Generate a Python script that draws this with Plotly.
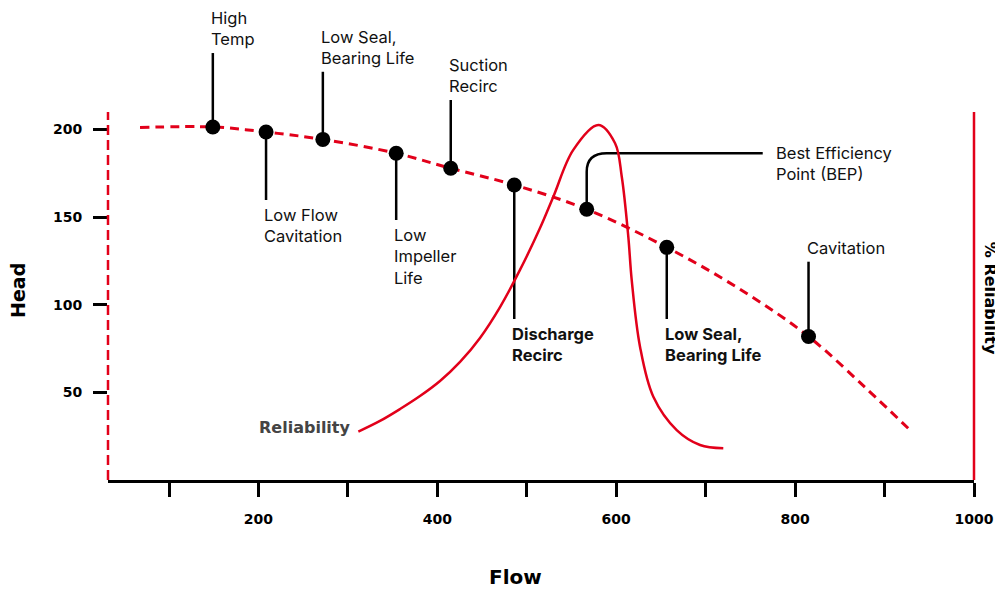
import plotly.graph_objects as go

# ---------------- data ----------------
head_flow = [67.6, 149, 208.5, 272, 354, 415, 486, 567, 656.5, 738, 815, 880, 930.7]
head_vals = [201.2, 201.5, 198.6, 194.4, 186.5, 177.9, 168.4, 154.5, 132.8, 109.0, 81.9, 52.0, 27.4]

rel_flow = [311.7, 335.9, 358.3, 380.6, 403.0, 425.4, 447.7, 470.1, 492.4, 514.8, 529.7,
            552.0, 580.0, 598.7, 606.2, 613.5, 617.3, 626.6, 641.5, 667.6, 693.7, 719.7]
rel_vals = [27.6, 33.7, 40.5, 47.9, 56.5, 67.4, 81.1, 98.7, 119.9, 143.8, 161.7,
            188.4, 202.6, 192.2, 173.1, 138.9, 114.2, 76.1, 47.5, 28.5, 20.0, 18.1]

point_flow = [149, 208.5, 272, 354, 415, 486, 567, 656.5, 815]
point_head = [201.5, 198.6, 194.4, 186.5, 177.9, 168.4, 154.5, 132.8, 81.9]
point_labels = ["High<br>Temp", "Low Flow<br>Cavitation", "Low Seal,<br>Bearing Life",
                "Low<br>Impeller<br>Life", "Suction<br>Recirc", "Discharge<br>Recirc",
                "Best Efficiency<br>Point (BEP)", "Low Seal,<br>Bearing Life", "Cavitation"]
point_bold = [False, False, False, False, False, True, False, True, False]

x_tickvals = [100, 200, 300, 400, 500, 600, 700, 800, 900, 1000]
x_ticktext = ["", "200", "", "400", "", "600", "", "800", "", "1000"]
y_tickvals = [50, 100, 150, 200]
y_ticktext = ["50", "100", "150", "200"]

# ---------------- layout config (callout leader ends) ----------------
leader_end = [243.7, 159.8, 233.0, 148.4, 216.9, 91.9, None, 91.9, 124.6]
bep_corner_y = 186.5
bep_end_x = 763.8

RED = "#E2001A"
X_RANGE = [31.8, 1000]
Y_RANGE = [0, 269.4]
FRAME_TOP = 210

fig = go.Figure()

fig.add_trace(go.Scatter(
    x=head_flow, y=head_vals, mode="lines",
    line=dict(color=RED, width=3, dash="9px,6px", shape="spline", smoothing=1.0),
    hoverinfo="skip", showlegend=False))

fig.add_trace(go.Scatter(
    x=rel_flow, y=rel_vals, mode="lines",
    line=dict(color=RED, width=2.5, shape="spline", smoothing=1.0),
    hoverinfo="skip", showlegend=False))

fig.add_trace(go.Scatter(
    x=point_flow, y=point_head, mode="markers",
    marker=dict(color="black", size=15),
    hoverinfo="skip", showlegend=False))

shapes = []
annotations = []

# frame lines
shapes.append(dict(type="line", xref="paper", yref="y", x0=0, x1=0, y0=0, y1=FRAME_TOP,
                   line=dict(color=RED, width=2.5, dash="10px,5px"), layer="above"))
shapes.append(dict(type="line", xref="paper", yref="y", x0=1, x1=1, y0=0, y1=FRAME_TOP,
                   line=dict(color=RED, width=2.5), layer="above"))

for i, (px, py, lab, bold, end) in enumerate(zip(point_flow, point_head, point_labels,
                                                  point_bold, leader_end)):
    font = dict(family="Inter", size=16.5, color="#111111",
                weight="bold" if bold else "normal")
    if end is None:
        # BEP leader with rounded corner
        path = (f"M {px},{py} L {px},{bep_corner_y - 10.5} "
                f"Q {px},{bep_corner_y} {px + 22.4},{bep_corner_y} L {bep_end_x},{bep_corner_y}")
        shapes.append(dict(type="path", xref="x", yref="y", path=path,
                           line=dict(color="black", width=2.5), layer="below"))
        annotations.append(dict(x=bep_end_x, y=bep_corner_y, xref="x", yref="y",
                                text=lab, showarrow=False, xanchor="left", yanchor="top",
                                align="left", xshift=11, yshift=12, font=font))
        continue
    shapes.append(dict(type="line", xref="x", yref="y", x0=px, x1=px, y0=py, y1=end,
                       line=dict(color="black", width=2.5), layer="below"))
    up = end > py
    annotations.append(dict(x=px, y=end, xref="x", yref="y", text=lab, showarrow=False,
                            xanchor="left", yanchor="bottom" if up else "top",
                            align="left", xshift=-4, yshift=2 if up else -3, font=font))

# Reliability label at curve start
annotations.append(dict(x=rel_flow[0], y=rel_vals[0], xref="x", yref="y", text="Reliability",
                        showarrow=False, xanchor="right", yanchor="middle", xshift=-6, yshift=4,
                        font=dict(family="DejaVu Sans", size=16, weight="bold", color="#444444")))

# axis titles (paper coords relative to plot area)
annotations.append(dict(x=-0.104, y=0.4025, xref="paper", yref="paper", text="Head",
                        showarrow=False, textangle=-90, xanchor="center", yanchor="middle",
                        font=dict(family="DejaVu Sans", size=19, weight="bold", color="black")))
annotations.append(dict(x=0.47, y=-0.2055, xref="paper", yref="paper", text="Flow",
                        showarrow=False, xanchor="center", yanchor="middle",
                        font=dict(family="DejaVu Sans", size=20, weight="bold", color="black")))
annotations.append(dict(x=1.0185, y=0.386, xref="paper", yref="paper", text="% Reliability",
                        showarrow=False, textangle=90, xanchor="center", yanchor="middle",
                        font=dict(family="DejaVu Sans", size=16, weight="bold", color="black")))

# page body has an 8px margin: figure is sized/offset to compensate
fig.update_layout(
    width=995, height=582,
    margin=dict(l=100, r=29, t=0, b=110),
    paper_bgcolor="white", plot_bgcolor="white",
    shapes=shapes, annotations=annotations, showlegend=False,
    xaxis=dict(range=X_RANGE, tickvals=x_tickvals, ticktext=x_ticktext,
               ticks="outside", ticklen=14, tickwidth=2.5, tickcolor="black",
               showline=True, linewidth=2.5, linecolor="black",
               showgrid=False, zeroline=False, ticklabelstandoff=10,
               tickfont=dict(family="DejaVu Sans", size=14, weight="bold", color="black")),
    yaxis=dict(range=Y_RANGE, tickvals=y_tickvals, ticktext=y_ticktext,
               ticks="outside", ticklen=14, tickwidth=2.5, tickcolor="black",
               showline=False, showgrid=False, zeroline=False, ticklabelstandoff=8,
               tickfont=dict(family="DejaVu Sans", size=14, weight="bold", color="black")),
)

fig.write_html("out.html")
